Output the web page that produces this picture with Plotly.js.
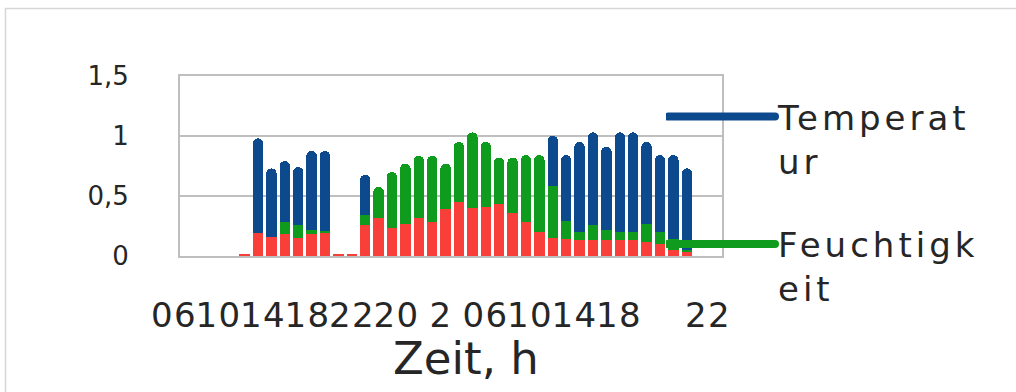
<!DOCTYPE html>
<html>
<head>
<meta charset="utf-8">
<script src="https://cdn.plot.ly/plotly-3.0.1.min.js"></script>
<style>
  html, body { margin: 0; padding: 0; background: #fff; }
  #chart { width: 1016px; height: 392px; }
  .legendtext { letter-spacing: 4px; }
  .x2tick text { letter-spacing: 1.5px; }
</style>
</head>
<body>
<div id="chart"></div>
<script>
// Hours (continuous count, 24 = midnight between the two days)
const hours = [11,12,13,14,15,16,17,18,19,20,21,22,23,24,25,26,27,28,29,30,31,32,33,34,35,36,37,38,39,40,41,42,43,44];
const temperatur = [null,0.98,0.73,0.79,0.74,0.875,0.875,null,null,0.675,0.50,0.47,0.44,0.42,0.40,0.40,0.42,0.45,0.50,0.55,0.60,0.68,0.78,1.00,0.84,0.95,1.03,0.91,1.03,1.03,0.95,0.84,0.84,0.73];
const feuchtigkeit = [null,0.15,0.14,0.28,0.26,0.22,0.21,null,null,0.34,0.575,0.70,0.77,0.835,0.835,0.77,0.95,1.03,0.95,0.82,0.82,0.84,0.84,0.58,0.29,0.20,0.26,0.22,0.20,0.20,0.27,0.20,0.14,0.05];
const drittReihe = [0.02,0.19,0.16,0.18,0.15,0.18,0.19,0.02,0.02,0.26,0.32,0.23,0.27,0.32,0.28,0.39,0.45,0.40,0.41,0.43,0.36,0.28,0.20,0.15,0.14,0.13,0.13,0.13,0.13,0.13,0.12,0.10,0.05,0.03];
const tickLabels = ['06','10','14','18','22','20','2','06','10','14','18','','22'];
const yTicks = [0, 0.5, 1, 1.5];

const BLUE = '#0d4a8d', GREEN = '#0f9b1e', RED = '#f93f39';
const GRID = '#bfbfbf';
const FONT = 'DejaVu Sans';

const W = 1016, H = 392;
const ML = 140, MR = 274, MT = 76, MB = 136;
const PW = W - ML - MR; // 602
const PH = H - MT - MB; // 180
const px2fx = p => (p - ML) / PW;
const px2fy = p => (H - MB - p) / PH;

const barCommon = { type: 'bar', x: hours, width: 0.78, showlegend: false, hoverinfo: 'skip' };

const traces = [
  Object.assign({}, barCommon, { y: temperatur, name: 'Temperatur', marker: { color: BLUE, cornerradius: '50%', line: { width: 0 } } }),
  Object.assign({}, barCommon, { y: feuchtigkeit, name: 'Feuchtigkeit', marker: { color: GREEN, cornerradius: '50%', line: { width: 0 } } }),
  Object.assign({}, barCommon, { y: drittReihe, name: 'Reihe 3', marker: { color: RED, line: { width: 0 } } }),
  { type: 'scatter', mode: 'lines', x: [null], y: [null], name: 'Temperat<br>ur', legendgroup: 'a', line: { color: BLUE, width: 8 }, hoverinfo: 'skip' },
  { type: 'scatter', mode: 'lines', x: [null], y: [null], name: 'Feuchtigk<br>eit', legendgroup: 'b', line: { color: GREEN, width: 8 }, hoverinfo: 'skip' },
  { type: 'scatter', mode: 'lines', x: [], y: [], xaxis: 'x2', yaxis: 'y2', showlegend: false, hoverinfo: 'skip' }
];

const layout = {
  width: W, height: H,
  margin: { l: ML, r: MR, t: MT, b: MB, pad: 0 },
  paper_bgcolor: '#ffffff', plot_bgcolor: 'rgba(0,0,0,0)',
  separators: ',.',
  font: { family: FONT, color: '#262626', size: 26 },
  barmode: 'overlay',
  bargap: 0,
  showlegend: true,
  legend: {
    x: px2fx(666), y: px2fy(88), xanchor: 'left', yanchor: 'top',
    bgcolor: 'rgba(0,0,0,0)', borderwidth: 0,
    font: { family: FONT, size: 34, color: '#262626' },
    itemwidth: 102,
    valign: 'top', tracegroupgap: 36, maxheight: 400,
    itemclick: false, itemdoubleclick: false
  },
  xaxis: {
    domain: [px2fx(180), px2fx(722)],
    range: [6.18, 46.63],
    showgrid: false, zeroline: false,
    showline: true, mirror: true, linecolor: GRID, linewidth: 2,
    showticklabels: false, ticks: '', fixedrange: true
  },
  yaxis: {
    domain: [0, 1],
    range: [0, 1.5],
    tickvals: yTicks,
    showgrid: true, gridcolor: GRID, gridwidth: 2,
    zeroline: false,
    showline: true, mirror: true, linecolor: GRID, linewidth: 2,
    ticks: '', ticklabelstandoff: 44,
    tickfont: { family: FONT, size: 26, color: '#262626' },
    fixedrange: true
  },
  xaxis2: {
    domain: [px2fx(151.75), px2fx(730.25)],
    anchor: 'y2',
    range: [-0.5, 12.5],
    tickvals: tickLabels.map((_, i) => i),
    ticktext: tickLabels,
    tickangle: 0,
    showgrid: false, zeroline: false, showline: false, ticks: '',
    ticklabelstandoff: 36,
    tickfont: { family: FONT, size: 34, color: '#262626' },
    fixedrange: true
  },
  yaxis2: { domain: [0, 1], anchor: 'x2', range: [0, 1.5], visible: false, fixedrange: true },
  annotations: [{
    text: 'Zeit, h', xref: 'paper', yref: 'paper',
    x: px2fx(466), y: px2fy(358), xanchor: 'center', yanchor: 'middle',
    showarrow: false, font: { family: FONT, size: 45, color: '#262626' }
  }],
  shapes: [{
    type: 'rect', xref: 'paper', yref: 'paper', layer: 'below',
    x0: px2fx(5.5), x1: px2fx(1030), y0: px2fy(8.5), y1: px2fy(400),
    line: { color: '#d6d6d6', width: 1.5 }, fillcolor: 'rgba(0,0,0,0)'
  }]
};

function stretchLegendLines(gd) {
  // Excel-style long legend keys: a horizontal line ending just before the text
  gd.querySelectorAll('.legend .legendlines path, .legend path.js-line').forEach(p => {
    p.setAttribute('d', 'M2,0h107');
    p.style.strokeLinecap = 'round';
  });
}

Plotly.newPlot('chart', traces, layout, { displayModeBar: false, staticPlot: true }).then(gd => {
  stretchLegendLines(gd);
  setTimeout(() => stretchLegendLines(gd), 0);
});
</script>
</body>
</html>
